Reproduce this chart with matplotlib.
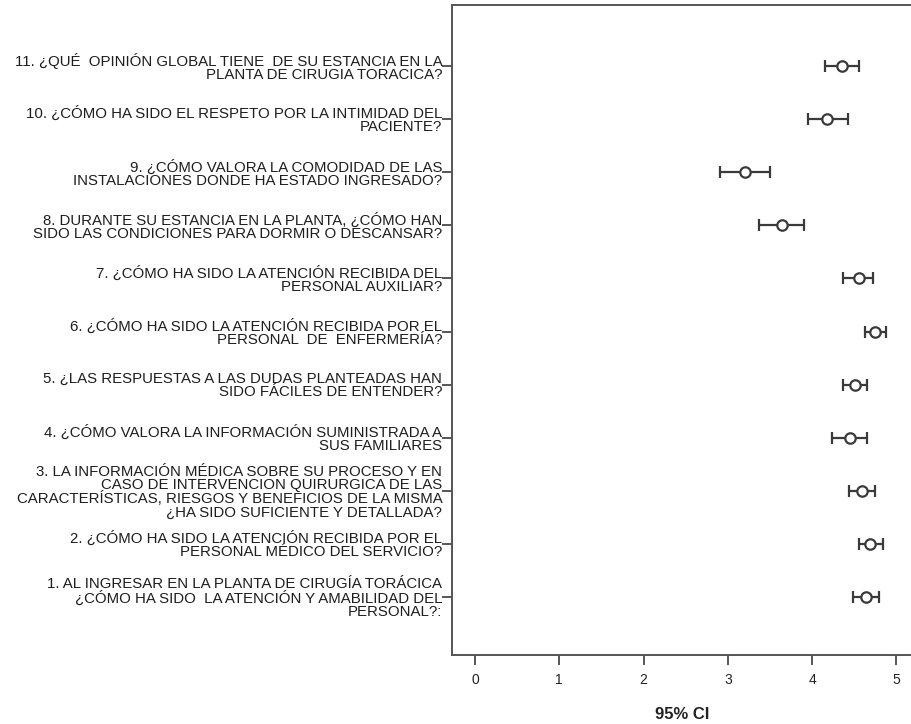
import matplotlib.pyplot as plt
import numpy as np

plt.rcParams['font.family'] = ['Liberation Sans', 'DejaVu Sans']

# Question labels, item 1 at the bottom
labels = [
    "1. AL INGRESAR EN LA PLANTA DE CIRUGÍA TORÁCICA\n¿CÓMO HA SIDO  LA ATENCIÓN Y AMABILIDAD DEL\nPERSONAL?:",
    "2. ¿CÓMO HA SIDO LA ATENCIÓN RECIBIDA POR EL\nPERSONAL MÉDICO DEL SERVICIO?",
    "3. LA INFORMACIÓN MÉDICA SOBRE SU PROCESO Y EN\nCASO DE INTERVENCION QUIRURGICA DE LAS\nCARACTERÍSTICAS, RIESGOS Y BENEFICIOS DE LA MISMA\n¿HA SIDO SUFICIENTE Y DETALLADA?",
    "4. ¿CÓMO VALORA LA INFORMACIÓN SUMINISTRADA A\nSUS FAMILIARES",
    "5. ¿LAS RESPUESTAS A LAS DUDAS PLANTEADAS HAN\nSIDO FÁCILES DE ENTENDER?",
    "6. ¿CÓMO HA SIDO LA ATENCIÓN RECIBIDA POR EL\nPERSONAL  DE  ENFERMERÍA?",
    "7. ¿CÓMO HA SIDO LA ATENCIÓN RECIBIDA DEL\nPERSONAL AUXILIAR?",
    "8. DURANTE SU ESTANCIA EN LA PLANTA, ¿CÓMO HAN\nSIDO LAS CONDICIONES PARA DORMIR O DESCANSAR?",
    "9. ¿CÓMO VALORA LA COMODIDAD DE LAS\nINSTALACIONES DONDE HA ESTADO INGRESADO?",
    "10. ¿CÓMO HA SIDO EL RESPETO POR LA INTIMIDAD DEL\nPACIENTE?",
    "11. ¿QUÉ  OPINIÓN GLOBAL TIENE  DE SU ESTANCIA EN LA\nPLANTA DE CIRUGIA TORACICA?",
]

# means and 95% CI bounds
means = [4.64, 4.69, 4.59, 4.45, 4.51, 4.74, 4.55, 3.64, 3.20, 4.18, 4.35]
lower = [4.49, 4.56, 4.44, 4.24, 4.37, 4.63, 4.36, 3.37, 2.91, 3.95, 4.15]
upper = [4.79, 4.84, 4.74, 4.65, 4.65, 4.88, 4.72, 3.90, 3.50, 4.42, 4.55]

means = np.array(means)
err = np.array([means - np.array(lower), np.array(upper) - means])
ypos = np.arange(1, len(labels) + 1)

fig = plt.figure(figsize=(9.12, 7.24), dpi=100)
ax = fig.add_axes([0.4956, 0.0953, 0.5044, 0.8978])

col = '#3a3a3a'
ax.errorbar(means, ypos, xerr=err, fmt='o', mfc='white', mec=col, ms=7.5,
            mew=1.6, ecolor=col, elinewidth=1.6, capsize=4.5, capthick=1.6)

ax.set_xlim(-0.273, 5.184)
ax.set_ylim(-0.09, 12.15)
ax.set_xticks(range(6))
ax.set_yticks(ypos)
ax.set_yticklabels(labels, fontsize=10.8, ha='right', color='#1e1e1e',
                   linespacing=0.93)
ax.tick_params(axis='y', length=7, width=1.2, color=col, pad=0)
ax.tick_params(axis='x', length=7, width=1.2, color=col, labelsize=10,
               labelcolor='#222222', pad=6)
ax.set_xlabel('95% CI', fontsize=12, fontweight='bold', color='#222222',
              labelpad=14)

for s in ['left', 'top', 'bottom']:
    ax.spines[s].set_color('#555555')
    ax.spines[s].set_linewidth(1.4)
ax.spines['right'].set_visible(False)

fig.savefig('out.png', dpi=100)
